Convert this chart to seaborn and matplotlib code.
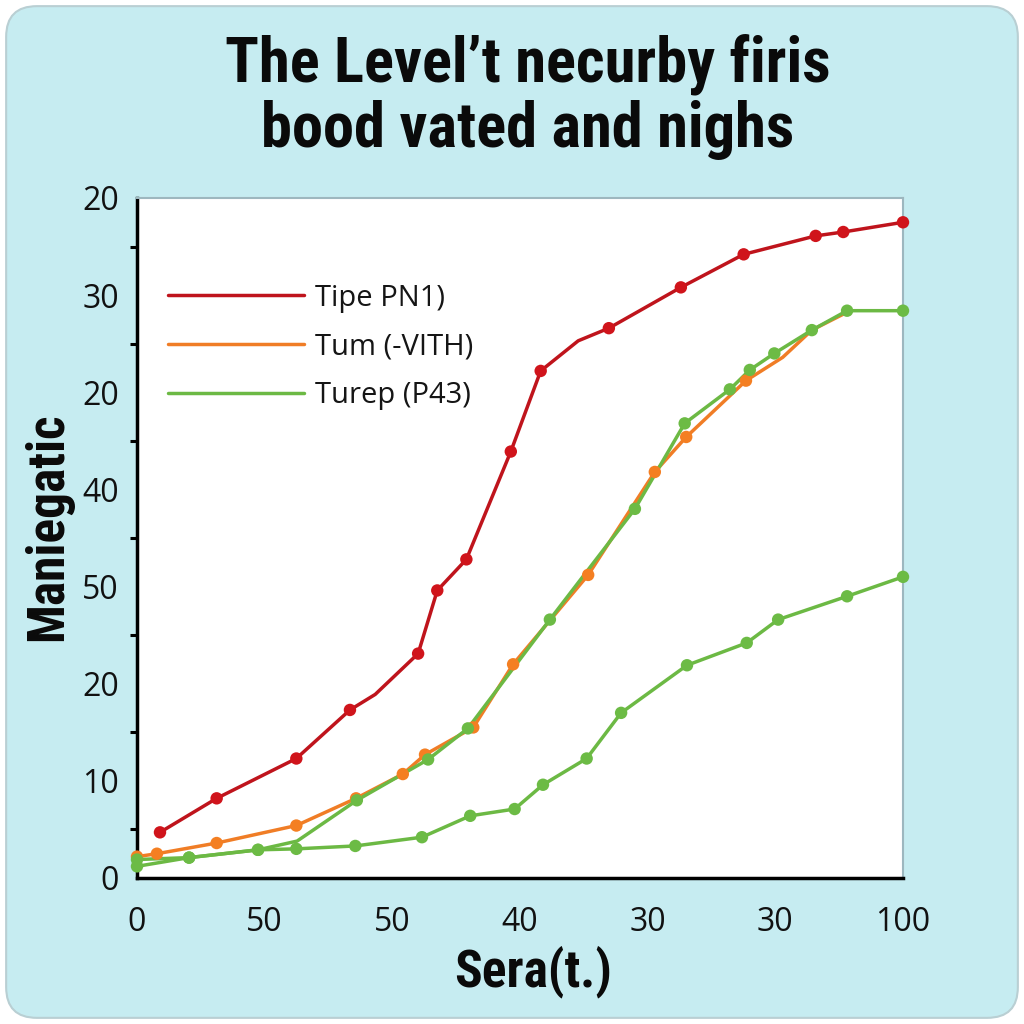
import matplotlib
matplotlib.use("Agg")
import numpy as np
import pandas as pd
import seaborn as sns
import matplotlib.pyplot as plt
from matplotlib.patches import FancyBboxPatch
from matplotlib.lines import Line2D
from matplotlib import font_manager

# ---------------- data ----------------
title_lines = ["The Level\u2019t necurby firis", "bood vated and nighs"]
x_label = "Sera(t.)"
y_label = "Maniegatic"
x_tick_pos = [0, 100 / 6, 200 / 6, 50, 400 / 6, 500 / 6, 100]
x_tick_labels = ["0", "50", "50", "40", "30", "30", "100"]
y_tick_pos = [0, 10, 20, 30, 40, 50, 60, 70]
y_tick_labels = ["0", "10", "20", "50", "40", "20", "30", "20"]

legend_labels = ["Tipe PN1)", "Tum (-VITH)", "Turep (P43)"]

red_x = [3.0, 10.4, 20.8, 27.8, 31.1, 36.7, 39.2, 43.0, 48.8, 52.7, 57.6, 61.6, 71.0, 79.2, 88.6, 92.2, 100.0]
red_y = [4.7, 8.2, 12.3, 17.3, 18.9, 23.1, 29.6, 32.8, 43.9, 52.2, 55.3, 56.6, 60.8, 64.2, 66.1, 66.5, 67.5]
red_mark = [1, 1, 1, 1, 0, 1, 1, 1, 1, 1, 0, 1, 1, 1, 1, 1, 1]

orange_x = [0.0, 2.6, 10.4, 20.8, 28.6, 34.7, 37.6, 43.9, 49.1, 58.9, 67.6, 71.7, 79.5, 84.3, 88.1, 92.6]
orange_y = [2.2, 2.5, 3.6, 5.4, 8.2, 10.7, 12.7, 15.5, 22.0, 31.2, 41.8, 45.4, 51.2, 53.6, 56.4, 58.2]
orange_mark = [1, 1, 1, 1, 1, 1, 1, 1, 1, 1, 1, 1, 1, 0, 0, 0]

green_x = [0.0, 6.8, 15.8, 20.9, 28.7, 38.0, 43.2, 53.9, 65.0, 71.5, 77.4, 80.0, 83.2, 88.1, 92.7, 100.0]
green_y = [1.9, 2.1, 2.9, 3.8, 8.0, 12.2, 15.4, 26.6, 38.0, 46.8, 50.3, 52.3, 54.0, 56.4, 58.4, 58.4]
green_mark = [1, 1, 1, 0, 1, 1, 1, 1, 1, 1, 1, 1, 1, 1, 1, 1]

green2_x = [0.0, 6.8, 15.8, 20.8, 28.5, 37.2, 43.5, 49.3, 53.0, 58.7, 63.2, 71.8, 79.6, 83.7, 92.7, 100.0]
green2_y = [1.2, 2.1, 2.9, 3.0, 3.3, 4.2, 6.4, 7.1, 9.6, 12.3, 17.0, 21.9, 24.2, 26.6, 29.0, 31.0]
green2_mark = [1, 1, 1, 1, 1, 1, 1, 1, 1, 1, 1, 1, 1, 1, 1, 1]

# ---------------- style ----------------
sns.set_theme(style="white")
names = {f.name for f in font_manager.fontManager.ttflist}
cond_font = next((f for f in ["Roboto Condensed", "Liberation Sans Narrow", "Roboto"] if f in names), "DejaVu Sans")
body_font = "Open Sans" if "Open Sans" in names else "DejaVu Sans"
plt.rcParams["font.family"] = [body_font, "DejaVu Sans"]

series_keys = ["red", "orange", "green", "green2"]
palette = {"red": "#bf141c", "orange": "#f07d26", "green": "#6cb944", "green2": "#6cb944"}
marker_pal = {"red": "#d0141b", "orange": "#f47f22", "green": "#6cbb45", "green2": "#6cbb45"}

frames = []
for key, xs, ys, ms in [("red", red_x, red_y, red_mark),
                        ("orange", orange_x, orange_y, orange_mark),
                        ("green", green_x, green_y, green_mark),
                        ("green2", green2_x, green2_y, green2_mark)]:
    frames.append(pd.DataFrame({"x": xs, "y": ys, "mark": [bool(m) for m in ms], "series": key}))
df = pd.concat(frames, ignore_index=True)

fig = plt.figure(figsize=(10.24, 10.24), dpi=100)
fig.patch.set_facecolor("white")
bg = FancyBboxPatch((0.006, 0.006), 0.988, 0.988, boxstyle="round,pad=0,rounding_size=0.03",
                    transform=fig.transFigure, facecolor="#c6ecf1", edgecolor="#b9cfd3",
                    linewidth=1.5, zorder=-10)
fig.patches.append(bg)

ax = fig.add_axes([137 / 1024, 1 - 878 / 1024, 766 / 1024, 680 / 1024])
ax.set_facecolor("white")

for key in series_keys:
    sub = df[df.series == key]
    sns.lineplot(data=sub, x="x", y="y", color=palette[key], sort=False, estimator=None,
                 linewidth=2.5, ax=ax, legend=False, zorder=2)
    subm = sub[sub.mark]
    sns.scatterplot(data=subm, x="x", y="y", color=marker_pal[key], s=80, edgecolor="none",
                    ax=ax, legend=False, zorder=3, clip_on=False)

ax.set_xlim(0, 100)
ax.set_ylim(0, 70)
ax.set_xticks(x_tick_pos)
ax.set_xticklabels(x_tick_labels)
ax.set_yticks(y_tick_pos)
ax.set_yticklabels(y_tick_labels)
ax.set_yticks(np.arange(5, 70, 10), minor=True)
ax.set_xlabel("")
ax.set_ylabel("")

for s in ["left", "bottom"]:
    ax.spines[s].set_color("black")
    ax.spines[s].set_linewidth(2.5)
for s in ["top", "right"]:
    ax.spines[s].set_color("#9db7bf")
    ax.spines[s].set_linewidth(1.5)

ax.tick_params(axis="both", which="major", direction="inout", length=20, width=2.5,
               color="black", labelsize=23, labelcolor="#111111")
ax.tick_params(axis="y", which="major", pad=3)
ax.tick_params(axis="x", which="major", pad=10)
ax.tick_params(axis="y", which="minor", direction="out", length=5, width=2.2, color="black", left=True)

handles = [Line2D([], [], color=palette[k], lw=2.5) for k in ["red", "orange", "green"]]
leg = ax.legend(handles, legend_labels, loc="upper left", bbox_to_anchor=(0.04, 0.874),
                frameon=False, fontsize=21, handlelength=4.66, handletextpad=0.4,
                labelspacing=0.67, borderpad=0, borderaxespad=0)
for t in leg.get_texts():
    t.set_color("#151515")

title_size = 45 if cond_font != "Roboto" else 36
lab_size = 37 if cond_font != "Roboto" else 29
fig.text(528 / 1024, 1 - 64 / 1024, title_lines[0], ha="center", va="center",
         fontsize=title_size, fontweight="bold", family=[cond_font, "DejaVu Sans"], color="#0a0a0a")
fig.text(528 / 1024, 1 - 130 / 1024, title_lines[1], ha="center", va="center",
         fontsize=title_size, fontweight="bold", family=[cond_font, "DejaVu Sans"], color="#0a0a0a")
fig.text(533 / 1024, 1 - 972 / 1024, x_label, ha="center", va="center",
         fontsize=lab_size, fontweight="bold", family=[cond_font, "DejaVu Sans"], color="#0a0a0a")
fig.text(48 / 1024, 1 - 527 / 1024, y_label, ha="center", va="center", rotation=90,
         fontsize=lab_size, fontweight="bold", family=[cond_font, "DejaVu Sans"], color="#0a0a0a")

fig.savefig("out.png", dpi=100, facecolor=fig.get_facecolor())
